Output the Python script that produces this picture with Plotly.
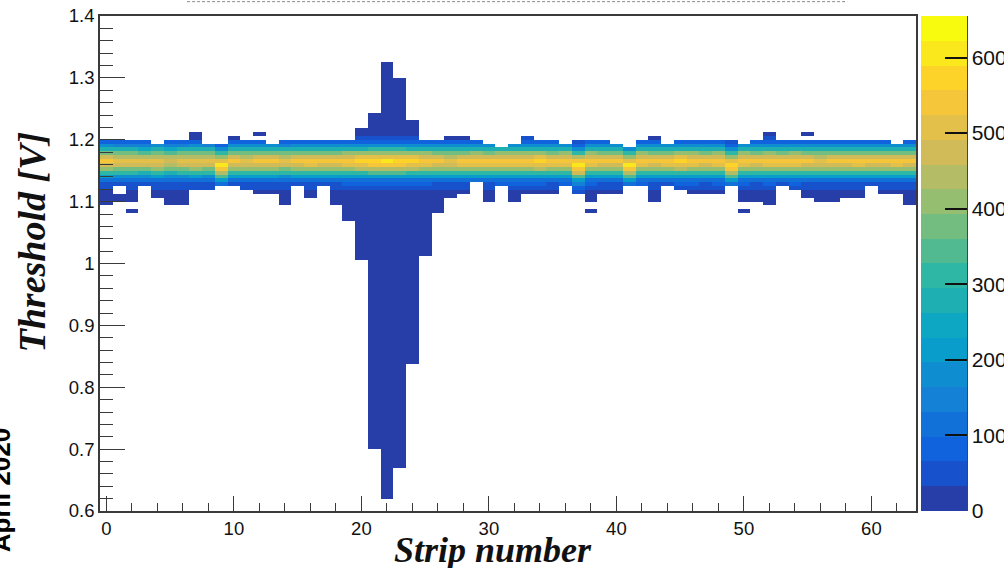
import numpy as np
import plotly.graph_objects as go

# ---------------- data ----------------
strips = list(range(64))

# peak counts (centre of the band) per strip
peak_counts = [530, 510, 510, 500, 520, 490, 510, 520, 510, 590,
               530, 520, 530, 530, 510, 530, 540, 530, 530, 550,
               560, 570, 590, 580, 560, 550, 530, 520, 540, 550,
               540, 550, 550, 550, 560, 540, 550, 600, 550, 530,
               530, 590, 550, 530, 540, 560, 550, 530, 550, 580,
               550, 530, 550, 540, 550, 530, 520, 530, 530, 540,
               530, 530, 540, 530]

# threshold of the band centre per strip [V]
band_center = [1.165, 1.163, 1.163, 1.163, 1.163, 1.163, 1.163, 1.163, 1.163, 1.159,
               1.163, 1.163, 1.163, 1.163, 1.163, 1.163, 1.163, 1.163, 1.163, 1.163,
               1.163, 1.163, 1.165, 1.165, 1.163, 1.163, 1.163, 1.163, 1.163, 1.163,
               1.163, 1.163, 1.163, 1.163, 1.163, 1.163, 1.163, 1.160, 1.163, 1.163,
               1.163, 1.159, 1.163, 1.163, 1.163, 1.163, 1.163, 1.163, 1.163, 1.160,
               1.163, 1.163, 1.163, 1.163, 1.163, 1.163, 1.163, 1.163, 1.163, 1.163,
               1.163, 1.163, 1.163, 1.163]

# highest filled threshold per strip [V]
band_top = [1.199, 1.201, 1.203, 1.199, 1.196, 1.203, 1.203, 1.214, 1.193, 1.195,
            1.207, 1.199, 1.210, 1.193, 1.199, 1.199, 1.198, 1.199, 1.199, 1.199,
            1.219, 1.245, 1.322, 1.302, 1.232, 1.200, 1.200, 1.207, 1.207, 1.199,
            1.193, 1.189, 1.196, 1.207, 1.199, 1.203, 1.196, 1.199, 1.199, 1.199,
            1.196, 1.190, 1.199, 1.214, 1.193, 1.199, 1.199, 1.197, 1.203, 1.199,
            1.196, 1.199, 1.210, 1.199, 1.199, 1.210, 1.199, 1.199, 1.199, 1.207,
            1.199, 1.199, 1.196, 1.203]

# lowest filled threshold per strip [V]
band_bottom = [1.094, 1.100, 1.080, 1.122, 1.107, 1.096, 1.093, 1.116, 1.116, 1.124,
               1.124, 1.118, 1.110, 1.115, 1.094, 1.124, 1.108, 1.126, 1.096, 1.066,
               1.009, 0.697, 0.618, 0.668, 0.837, 1.010, 1.083, 1.108, 1.115, 1.130,
               1.100, 1.122, 1.097, 1.115, 1.110, 1.115, 1.124, 1.115, 1.081, 1.115,
               1.112, 1.122, 1.124, 1.097, 1.124, 1.118, 1.115, 1.113, 1.115, 1.124,
               1.081, 1.102, 1.094, 1.126, 1.118, 1.108, 1.097, 1.098, 1.107, 1.107,
               1.124, 1.110, 1.112, 1.095]

# empty cells inside the filled range (strip, threshold [V])
gap_strips = [1, 1, 2, 2, 12, 38, 38, 50, 50, 43, 55, 59]
gap_volts = [1.119, 1.113, 1.094, 1.088, 1.203, 1.094, 1.088, 1.094, 1.088, 1.207, 1.203, 1.201]

# vertical band shape (fraction of peak) above / below the centre, per bin
profile_up = [1.00, 0.88, 0.72, 0.52, 0.32, 0.16, 0.06]
profile_down = [1.00, 0.92, 0.77, 0.58, 0.38, 0.22, 0.12, 0.07, 0.045, 0.03]
tail_count = 8

# histogram binning
y_min, y_max, n_ybins = 0.6, 1.4, 128
z_max = 655

colorbar_ticks = [0, 100, 200, 300, 400, 500, 600]
y_ticks = [0.6, 0.7, 0.8, 0.9, 1.0, 1.1, 1.2, 1.3, 1.4]
y_ticktext = ["0.6", "0.7", "0.8", "0.9", "1", "1.1", "1.2", "1.3", "1.4"]
x_ticks = [0, 10, 20, 30, 40, 50, 60]

# ---------------- build the 2D histogram ----------------
bw = (y_max - y_min) / n_ybins
y_centers = y_min + bw * (np.arange(n_ybins) + 0.5)
z = np.full((n_ybins, len(strips)), np.nan)
for j in strips:
    for k, v in enumerate(y_centers):
        if v < band_bottom[j] or v > band_top[j]:
            continue
        d = int(round((v - band_center[j]) / bw))
        if d >= 0:
            frac = profile_up[d] if d < len(profile_up) else 0.0
        else:
            frac = profile_down[-d] if -d < len(profile_down) else 0.0
        z[k, j] = max(peak_counts[j] * frac, tail_count)
for s, v in zip(gap_strips, gap_volts):
    k = int((v - y_min) / bw)
    z[k, s] = np.nan

# ---------------- ROOT kBird palette, 20 contour levels ----------------
stops = [0.0, 0.125, 0.25, 0.375, 0.5, 0.625, 0.75, 0.875, 1.0]
red = [0.2082, 0.0592, 0.0780, 0.0232, 0.1802, 0.5301, 0.8186, 0.9956, 0.9764]
green = [0.1664, 0.3599, 0.5041, 0.6419, 0.7178, 0.7492, 0.7328, 0.7862, 0.9832]
blue = [0.5293, 0.8684, 0.8385, 0.7914, 0.6425, 0.4662, 0.3499, 0.1968, 0.0539]
ncol, nlev = 255, 20
cs = []
for i in range(nlev):
    idx = int((i + 0.99) * ncol / nlev)
    f = idx / (ncol - 1)
    r = np.interp(f, stops, red)
    g = np.interp(f, stops, green)
    b = np.interp(f, stops, blue)
    c = "rgb(%d,%d,%d)" % (round(r * 255), round(g * 255), round(b * 255))
    cs.append([i / nlev, c])
    cs.append([(i + 1) / nlev, c])

axis_col = "#3a3a3a"
tick_font = dict(family="Liberation Sans, Arial, sans-serif", size=18.5, color="#111")
cbar_font = dict(family="Liberation Sans, Arial, sans-serif", size=21, color="#111")

fig = go.Figure(go.Heatmap(
    x=strips, y=y_centers, z=z,
    zmin=0, zmax=z_max, colorscale=cs, hoverongaps=False,
    colorbar=dict(
        x=1.006, xanchor="left", y=0.5, yanchor="middle",
        len=1.0, lenmode="fraction", thickness=46, ypad=0, xpad=0,
        outlinewidth=0, ticks="inside", ticklen=22, tickwidth=1.5, tickcolor="#111",
        tickvals=colorbar_ticks, tickfont=cbar_font,
    ),
))

fig.update_xaxes(
    range=[-0.5, 63.5], showgrid=False, zeroline=False,
    showline=True, mirror=True, linecolor=axis_col, linewidth=1.5,
    ticks="inside", ticklen=15, tickwidth=1.3, tickcolor=axis_col,
    tickvals=x_ticks, tickfont=tick_font,
    minor=dict(dtick=2, tick0=0, ticks="inside", ticklen=8, tickwidth=1.3, tickcolor=axis_col),
)
fig.update_yaxes(
    range=[y_min, y_max], showgrid=False, zeroline=False,
    showline=True, mirror=True, linecolor=axis_col, linewidth=1.5,
    ticks="inside", ticklen=25, tickwidth=1.3, tickcolor=axis_col,
    tickvals=y_ticks, ticktext=y_ticktext, tickfont=tick_font,
    minor=dict(dtick=0.02, tick0=0.6, ticks="inside", ticklen=13, tickwidth=1.3, tickcolor=axis_col),
)

serif = "Liberation Serif, Times New Roman, serif"
fig.update_layout(
    width=1004, height=568,
    margin=dict(l=100, r=88, t=15.5, b=56.5, autoexpand=False),
    plot_bgcolor="white", paper_bgcolor="white",
    annotations=[
        dict(text="<b><i>Threshold [V]</i></b>", textangle=-90,
             xref="paper", yref="paper", x=-0.083, y=0.543,
             xanchor="center", yanchor="middle", showarrow=False,
             font=dict(family=serif, size=38, color="#111")),
        dict(text="<b><i>Strip number</i></b>",
             xref="paper", yref="paper", x=0.482, y=-0.078,
             xanchor="center", yanchor="middle", showarrow=False,
             font=dict(family=serif, size=36, color="#111")),
        dict(text="<b>April 2020</b>", textangle=-90,
             xref="paper", yref="paper", x=-0.122, y=0.043,
             xanchor="center", yanchor="middle", showarrow=False,
             font=dict(family="Liberation Sans, Arial, sans-serif", size=26, color="#000")),
    ],
    shapes=[
        dict(type="line", xref="paper", yref="paper", x0=0.1067, x1=0.9158,
             y0=1.029, y1=1.029, line=dict(color="#8a8a8a", width=1, dash="3px,2px")),
        dict(type="line", xref="paper", yref="paper", x0=1.0627, x1=1.0627,
             y0=0, y1=1, line=dict(color="#333", width=1.5)),
    ],
)

fig.write_html("out.html", config={"displayModeBar": False},
               post_script="document.body.style.margin='0px';")
